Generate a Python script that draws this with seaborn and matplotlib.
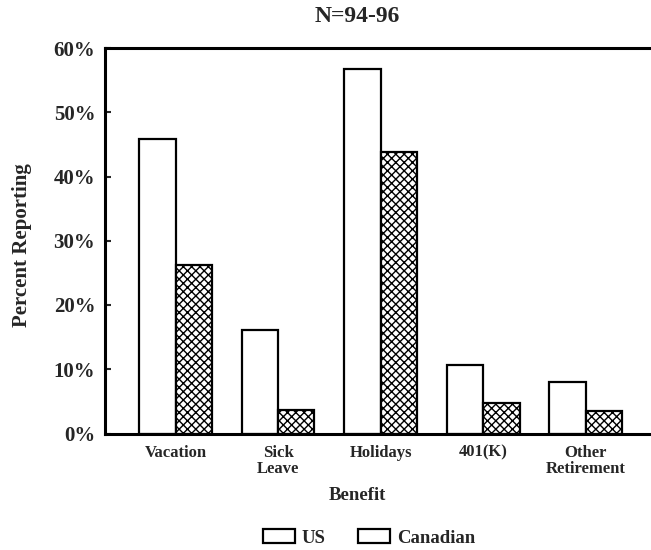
import matplotlib
matplotlib.use("Agg")
import matplotlib.pyplot as plt
import seaborn as sns
import pandas as pd
from matplotlib.patches import Patch

categories = ["Vacation", "Sick\nLeave", "Holidays", "401(K)", "Other\nRetirement"]
us_values = [45.8, 16.1, 56.7, 10.7, 8.0]
canadian_values = [26.2, 3.7, 43.8, 4.8, 3.5]
series = ["US", "Canadian"]
y_ticks = [0, 10, 20, 30, 40, 50, 60]
y_tick_labels = ["0%", "10%", "20%", "30%", "40%", "50%", "60%"]

df = pd.DataFrame({
    "Benefit": categories * 2,
    "Value": us_values + canadian_values,
    "Series": [series[0]] * len(categories) + [series[1]] * len(categories),
})

sns.set_style("white")
plt.rcParams["font.family"] = ["Liberation Serif", "DejaVu Serif"]
plt.rcParams["font.weight"] = "bold"
plt.rcParams["hatch.linewidth"] = 1.0

fig = plt.figure(figsize=(6.51, 5.5), dpi=100)
ax = fig.add_axes([105 / 651, 1 - 433.5 / 550, (651 - 105) / 651 + 0.01, (433.5 - 48) / 550])

sns.barplot(data=df, x="Benefit", y="Value", hue="Series", order=categories,
            hue_order=series, palette=["white", "white"], edgecolor="black",
            linewidth=1.6, width=0.71, gap=0, legend=False, ax=ax)

for bar in ax.containers[1]:
    bar.set_hatch("xxxx")
    bar.set_edgecolor("black")

ax.set_ylim(0, 60)
ax.set_xlim(-0.688, 4.7)
ax.set_yticks(y_ticks)
ax.set_yticklabels(y_tick_labels, fontsize=15, fontweight="bold")
ax.set_xticks(range(len(categories)))
ax.set_xticklabels(categories, fontsize=12, fontweight="bold", linespacing=1.0)
ax.tick_params(axis="y", direction="in", length=4, width=1.5, left=True, pad=7)
ax.tick_params(axis="x", length=0, pad=8)

for s in ["left", "top", "bottom"]:
    ax.spines[s].set_visible(True)
    ax.spines[s].set_linewidth(2.2)
    ax.spines[s].set_color("black")
ax.spines["right"].set_visible(False)

ax.set_ylabel("")
ax.set_xlabel("")
fig.text(22 / 651, 1 - 245 / 550, "Percent Reporting", rotation=90, ha="center",
         va="center", fontsize=15, fontweight="bold")
fig.text(357 / 651, 1 - 495 / 550, "Benefit", ha="center", va="center",
         fontsize=13.5, fontweight="bold")
fig.text(357 / 651, 1 - 16 / 550, "N=94-96", ha="center", va="center",
         fontsize=17, fontweight="bold")

handles = [Patch(facecolor="white", edgecolor="black", linewidth=1.6, label=s) for s in series]
fig.legend(handles=handles, loc="center", bbox_to_anchor=(369 / 651, 1 - 538 / 550),
           ncol=2, frameon=False, prop={"size": 13.5, "weight": "bold"},
           handlelength=1.7, handleheight=0.7, columnspacing=1.7, handletextpad=0.4)

fig.savefig("out.png", dpi=100)
